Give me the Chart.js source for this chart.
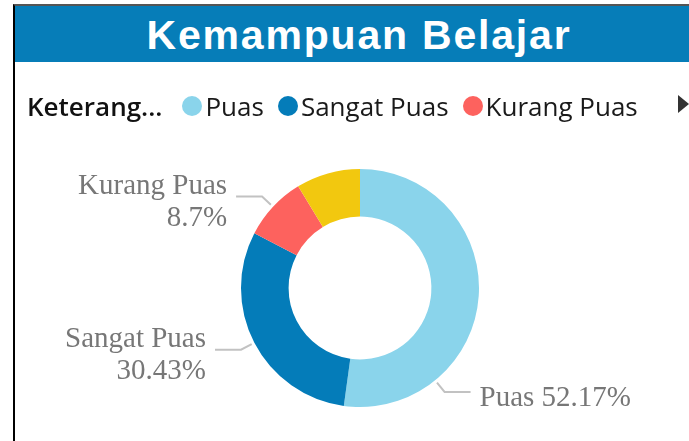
<!DOCTYPE html>
<html>
<head>
<meta charset="utf-8">
<script src="https://cdn.jsdelivr.net/npm/chart.js@4"></script>
<style>
  html, body { margin: 0; padding: 0; background: #fff; overflow: hidden; }
  body { width: 689px; height: 441px; position: relative; }
  #frame {
    position: absolute; left: 13px; top: 4px; width: 700px; height: 460px;
    border-top: 2px solid #555; border-left: 2px solid #000;
  }
  #header {
    position: absolute; left: 15px; top: 6px; width: 688px; height: 56px;
    background: #067db8; color: #fff; text-align: center;
    font: bold 41px "Liberation Sans", Arial, sans-serif; letter-spacing: 1.8px;
    line-height: 58px; z-index: 2;
  }
  #legend {
    position: absolute; left: 27px; top: 87px; height: 38px;
    display: flex; align-items: center; z-index: 2;
    font: 26px "Open Sans", "Noto Sans", sans-serif; color: #1a1a1a;
  }
  #legend .title { font-weight: 600; color: #111; margin-right: 20px; }
  #legend .item { display: flex; align-items: center; margin-right: 14px; }
  #legend .dot { width: 20px; height: 20px; border-radius: 50%; margin-right: 3px; }
  #more {
    position: absolute; left: 678px; top: 95px; width: 0; height: 0;
    border-top: 9px solid transparent; border-bottom: 9px solid transparent;
    border-left: 11px solid #333; z-index: 2;
  }
  #donut { position: absolute; left: 0; top: 0; }
</style>
</head>
<body>
<div id="frame"></div>
<div id="header">Kemampuan Belajar</div>
<div id="legend"></div>
<div id="more"></div>
<canvas id="donut" width="689" height="441"></canvas>

<script>
// jumlah responden per kategori
const categories = ["Puas", "Sangat Puas", "Kurang Puas", "Tidak Puas"];
const counts = [12, 7, 2, 2];
const colors = ["#8ad4eb", "#047cb9", "#fd625e", "#f2c80f"];

// where each outside label hooks onto its slice (fraction along the arc)
const labelPlacement = [
    { frac: 0.75, oneLine: true },
    { frac: 0.5 },
    { frac: 0.5 },
    null
];

const total = counts.reduce((a, b) => a + b, 0);

function percentText(v) {
    return Number((v / total * 100).toFixed(2)) + "%";
}

// legend row: only the items that fit, the arrow pages to the rest
const legendBox = document.getElementById("legend");
const legendTitle = document.createElement("span");
legendTitle.className = "title";
legendTitle.innerText = "Keterang...";
legendBox.appendChild(legendTitle);
categories.slice(0, 3).forEach((name, i) => {
    const item = document.createElement("span");
    item.className = "item";
    const dot = document.createElement("span");
    dot.className = "dot";
    dot.style.background = colors[i];
    const txt = document.createElement("span");
    txt.innerText = name;
    item.appendChild(dot);
    item.appendChild(txt);
    legendBox.appendChild(item);
});

const outsideLabels = {
    id: "outsideLabels",
    afterDatasetsDraw(chart) {
        const ctx = chart.ctx;
        const arcs = chart.getDatasetMeta(0).data;
        ctx.save();
        ctx.font = "29px 'Liberation Serif', 'DejaVu Serif', serif";
        ctx.textBaseline = "alphabetic";
        arcs.forEach((arc, i) => {
            const place = labelPlacement[i];
            if (!place) return;
            const p = arc.getProps(["x", "y", "startAngle", "endAngle", "outerRadius"], true);
            const a = p.startAngle + (p.endAngle - p.startAngle) * place.frac;
            const cos = Math.cos(a), sin = Math.sin(a);
            const x0 = p.x + cos * (p.outerRadius + 3);
            const y0 = p.y + sin * (p.outerRadius + 3);
            const x1 = p.x + cos * (p.outerRadius + 15);
            const y1 = p.y + sin * (p.outerRadius + 15);
            const dir = cos >= 0 ? 1 : -1;
            const x2 = x1 + dir * 26;

            ctx.strokeStyle = "#c2c2c2";
            ctx.lineWidth = 2;
            ctx.beginPath();
            ctx.moveTo(x0, y0);
            ctx.lineTo(x1, y1);
            ctx.lineTo(x2, y1);
            ctx.stroke();

            ctx.fillStyle = "#777";
            ctx.textAlign = dir > 0 ? "left" : "right";
            const tx = x2 + dir * 9;
            const pct = percentText(counts[i]);
            if (place.oneLine) {
                ctx.fillText(categories[i] + " " + pct, tx, y1 + 14);
            } else {
                ctx.fillText(categories[i], tx, y1 - 3);
                ctx.fillText(pct, tx, y1 + 29);
            }
        });
        ctx.restore();
    }
};

new Chart(document.getElementById("donut"), {
    type: "doughnut",
    data: {
        labels: categories,
        datasets: [{
            data: counts,
            backgroundColor: colors,
            borderWidth: 0
        }]
    },
    options: {
        responsive: false,
        animation: false,
        cutout: "60%",
        layout: { padding: { left: 241, right: 210, top: 169, bottom: 34 } },
        plugins: {
            legend: { display: false },
            tooltip: { enabled: false }
        }
    },
    plugins: [outsideLabels]
});
</script>
</body>
</html>
